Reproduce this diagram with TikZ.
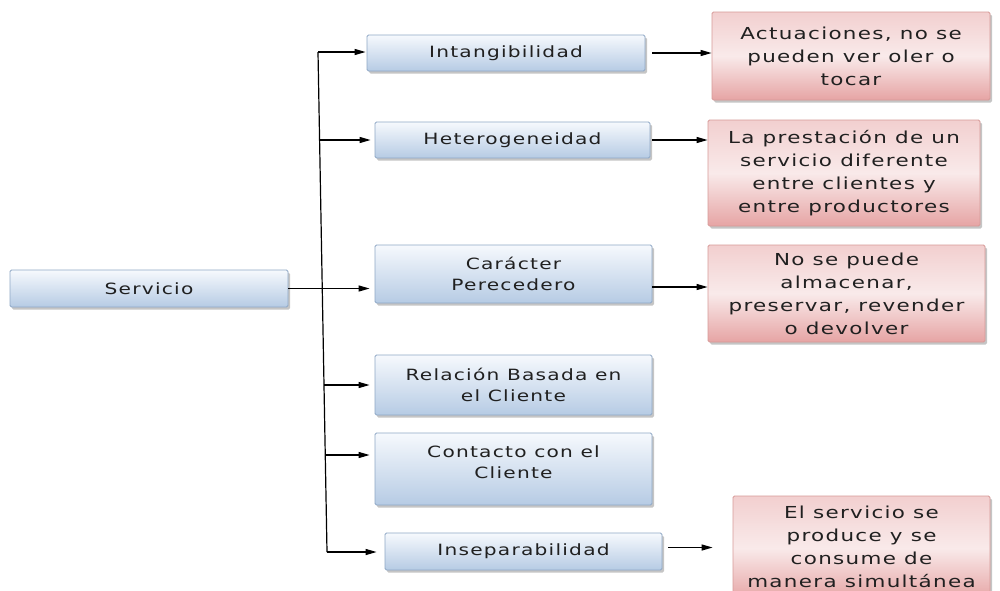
\documentclass[tikz,border=0pt]{standalone}
\usepackage{fontspec}
\setmainfont{DejaVu Sans}
\newfontfamily\bluefont{DejaVu Sans}[FakeStretch=1.3,LetterSpace=8]
\newfontfamily\pinkfont{DejaVu Sans}[FakeStretch=1.3,LetterSpace=8]
\usetikzlibrary{arrows.meta,shadows,calc}
\definecolor{blueTop}{HTML}{F6F9FD}
\definecolor{blueBot}{HTML}{B6CBE4}
\definecolor{blueBorder}{HTML}{8FA8C6}
\definecolor{pinkTop}{HTML}{F2CFCF}
\definecolor{pinkMid}{HTML}{F9EAEA}
\definecolor{pinkBot}{HTML}{E6A4A4}
\definecolor{pinkBorder}{HTML}{D79A98}
\definecolor{txt}{HTML}{202020}
\begin{document}
\begin{tikzpicture}[x=1pt,y=-1pt,
  bluebox/.style={draw=blueBorder, line width=0.8pt, rounded corners=1.5pt,
    top color=blueTop, bottom color=blueBot,
    drop shadow={shadow xshift=2pt, shadow yshift=-2.5pt, opacity=0.45},
    align=center, text=txt, inner sep=2pt,
    font=\bluefont\fontsize{15.5}{21}\selectfont},
  pinkbox/.style={draw=pinkBorder, line width=0.8pt, rounded corners=1.5pt,
    top color=pinkTop, bottom color=pinkBot, middle color=pinkMid,
    drop shadow={shadow xshift=2pt, shadow yshift=-2.5pt, opacity=0.45},
    align=center, text=txt, inner sep=2pt,
    font=\pinkfont\fontsize{16.5}{23}\selectfont},
  arr/.style={draw=black, line width=1.2pt, -{Triangle[length=11pt,width=6pt]}}]
\fill[white] (0,0) rectangle (1000,590);
\useasboundingbox (0,0) rectangle (1000,590);

% left box
\node[bluebox, minimum width=278pt, minimum height=37pt] (serv) at (149,288.5) {Servicio};

% middle boxes
\node[bluebox, minimum width=278pt, minimum height=36pt] (intang) at (506,53) {Intangibilidad};
\node[bluebox, minimum width=275pt, minimum height=36pt] (het) at (512.5,140) {Heterogeneidad};
\node[bluebox, minimum width=277pt, minimum height=58pt] (car) at (513.5,274) {Carácter\\Perecedero};
\node[bluebox, minimum width=277pt, minimum height=60pt] (rel) at (513.5,385) {Relación Basada en\\el Cliente};
\node[bluebox, minimum width=277pt, minimum height=72pt] (cont) at (513.5,469) {Contacto con el\\Cliente\\[-7pt]\mbox{}};
\node[bluebox, minimum width=277pt, minimum height=37pt] (insep) at (523.5,551.5) {Inseparabilidad};

% right boxes
\node[pinkbox, minimum width=278pt, minimum height=88pt] (p1) at (851,56) {Actuaciones, no se\\pueden ver oler o\\tocar};
\node[pinkbox, minimum width=272pt, minimum height=106pt] (p2) at (844,173) {La prestación de un\\servicio diferente\\entre clientes y\\entre productores};
\node[pinkbox, minimum width=277pt, minimum height=97pt] (p3) at (846.5,293.5) {No se puede\\almacenar,\\preservar, revender\\o devolver};
\node[pinkbox, minimum width=257pt, minimum height=104pt] (p4) at (861.5,548) {El servicio se\\produce y se\\consume de\\manera simultánea\\[-20pt]\mbox{}};

% trunk
\coordinate (t1) at (318,52);
\coordinate (t2) at (327,552);
\draw[line width=1.2pt] (t1) -- (t2);
\coordinate (b2) at ($(t1)!0.176!(t2)$);
\coordinate (b4) at ($(t1)!0.666!(t2)$);
\coordinate (b5) at ($(t1)!0.806!(t2)$);

% branches
\draw[arr, shorten >=1pt] (t1) -- (t1 -| intang.west);
\draw[arr, shorten >=4pt] (b2) -- (b2 -| het.west);
\draw[arr, shorten >=5pt] (serv.east) -- (serv.east -| car.west);
\draw[arr, shorten >=5pt] (b4) -- (b4 -| rel.west);
\draw[arr, shorten >=5pt] (b5) -- (b5 -| cont.west);
\draw[arr, shorten >=8pt] (t2) -- (t2 -| insep.west);

% to descriptions
\draw[arr, shorten <=7pt] (intang.east) -- (intang.east -| p1.west);
\draw[arr, shorten <=2pt] (het.east) -- (het.east -| p2.west);
\draw[arr] ($(car.east)+(0,13)$) -- ($(car.east -| p3.west)+(0,13)$);
\draw[arr, shorten <=6pt, shorten >=20pt] ($(insep.east)+(0,-4)$) -- ($(insep.east -| p4.west)+(0,-4)$);
\end{tikzpicture}
\end{document}
